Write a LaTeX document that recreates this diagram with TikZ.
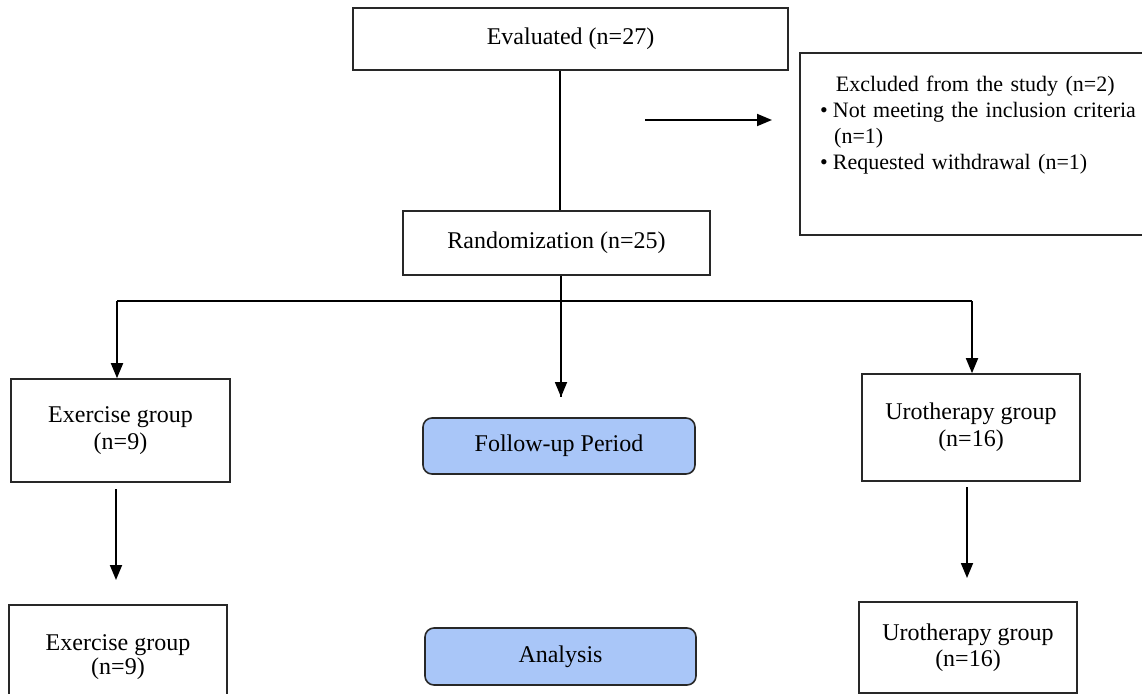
\documentclass[tikz,border=0pt]{standalone}
\usepackage{fontspec}
\setmainfont{Liberation Serif}
\usetikzlibrary{arrows.meta}
\definecolor{boxline}{RGB}{40,40,40}
\definecolor{bluefill}{RGB}{169,198,248}
\begin{document}
\begin{tikzpicture}[x=1pt,y=-1pt,
  every node/.style={inner sep=0pt},
  plainbox/.style={draw=boxline, line width=1.6pt, fill=white, align=center,
    font=\fontsize{24}{28}\selectfont},
  bluebox/.style={plainbox, fill=bluefill, rounded corners=9pt},
  conn/.style={line width=1.8pt, draw=black},
  arr/.style={conn, -{Triangle[length=15pt,width=12pt]}}
]
\useasboundingbox (0,0) rectangle (1142,693);

% boxes
\node[plainbox, minimum width=435pt, minimum height=62pt] (eval) at (570.5,39) {Evaluated (n=27)};
\node[plainbox, minimum width=307pt, minimum height=64pt] (rand) at (556.5,243) {Randomization (n=25)};
\node[plainbox, minimum width=354pt, minimum height=182pt] (exclbox) at (977,144) {};
\node[anchor=north west, text width=320pt, align=left, font=\fontsize{22}{26}\selectfont] (excltext) at (820,76)
  {\makebox[310pt][c]{Excluded from the study (n=2)}\\
   \textbullet\hspace{5pt}Not meeting the inclusion criteria\\
   \hspace*{14pt}(n=1)\\
   \textbullet\hspace{5pt}Requested withdrawal (n=1)};

\node[plainbox, minimum width=219pt, minimum height=103pt] (ex1) at (120.5,430.5) {Exercise group\\[-1pt](n=9)};
\node[plainbox, minimum width=218pt, minimum height=107pt] (uro1) at (971,427.5) {Urotherapy group\\[-1pt](n=16)};
\node[bluebox, minimum width=272pt, minimum height=56pt] (fu) at (559,446) {Follow-up Period};

\node[plainbox, minimum width=218pt, minimum height=104pt] (ex2) at (118,657) {Exercise group\\[-4pt](n=9)};
\node[plainbox, minimum width=218pt, minimum height=91pt] (uro2) at (968,647.5) {Urotherapy group\\[-2pt](n=16)};
\node[bluebox, minimum width=271pt, minimum height=57pt] (an) at (560.5,656.5) {Analysis};

% coordinates
\coordinate (cx) at (560,0);
\coordinate (exa) at (645,120);
\coordinate (exb) at (772,120);
\coordinate (ljoin) at (117,301);
\coordinate (rjoin) at (972,301);
\coordinate (mjoin) at (561,301);
\coordinate (fuarrow) at (561,397);
\coordinate (ex1start) at (116,489);
\coordinate (ex1end) at (116,580);
\coordinate (uro1start) at (967,487);
\coordinate (uro1end) at (967,578);

% connectors
\draw[conn] (cx |- eval.south) -- (cx |- rand.north);
\draw[arr] (exa) -- (exb);
\draw[conn] (mjoin |- rand.south) -- (fuarrow);
\draw[arr] (mjoin) -- (fuarrow);
\draw[conn] (ljoin) -- (rjoin);
\draw[arr] (ljoin) -- (ljoin |- ex1.north);
\draw[arr] (rjoin) -- (rjoin |- uro1.north);
\draw[arr] (ex1start) -- (ex1end);
\draw[arr] (uro1start) -- (uro1end);
\end{tikzpicture}
\end{document}
